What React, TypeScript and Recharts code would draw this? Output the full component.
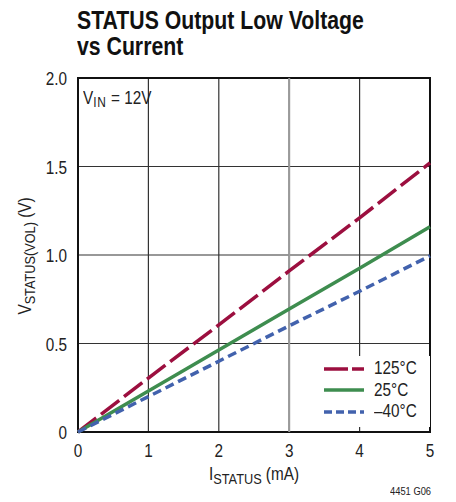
import React from "react";
import { LineChart, Line, XAxis, YAxis, CartesianGrid, ReferenceArea, ReferenceLine, Label } from "recharts";

const currents = [0, 1, 2, 3, 4, 5];
const v125 = [0, 0.305, 0.605, 0.91, 1.21, 1.52];
const v25 = [0, 0.232, 0.463, 0.695, 0.925, 1.16];
const vm40 = [0, 0.2, 0.4, 0.6, 0.795, 0.995];
const xTicks = [0, 1, 2, 3, 4, 5];
const yTicks = [0, 0.5, 1, 1.5, 2];

const data = currents.map((c, i) => ({ c, a: v125[i], b: v25[i], d: vm40[i] }));

const FONT = "'Liberation Sans', Arial, sans-serif";
const SX = 0.85;
const RED = "#9c0f3f";
const GREEN = "#3e8d4f";
const BLUE = "#4262ad";

const series = [
  { key: "a", name: "125°C", color: RED, dash: "23 6", ldash: "24 4" },
  { key: "b", name: "25°C", color: GREEN, dash: undefined, ldash: undefined },
  { key: "d", name: "–40°C", color: BLUE, dash: "9 5", ldash: "8 4" },
];

const XTick = (props: any) => {
  const { x, y, payload } = props;
  return (
    <g transform={`translate(${x},${y + 17})`}>
      <text transform={`scale(${SX},1)`} textAnchor="middle" fontFamily={FONT} fontSize={18} fill="#222">
        {payload.value}
      </text>
    </g>
  );
};

const YTick = (props: any) => {
  const { x, y, payload } = props;
  const v = payload.value as number;
  return (
    <g transform={`translate(${x - 3},${y + 7})`}>
      <text transform={`scale(${SX},1)`} textAnchor="end" fontFamily={FONT} fontSize={18} fill="#222">
        {v === 0 ? "0" : v.toFixed(1)}
      </text>
    </g>
  );
};

const Narrow = ({ children, style }: any) => (
  <span style={{ display: "inline-block", transform: `scaleX(${SX})`, transformOrigin: "left center", whiteSpace: "nowrap", ...style }}>
    {children}
  </span>
);

const LegendBox = () => (
  <div style={{ position: "absolute", left: 318, top: 356, background: "#fff", padding: "2px 0 4px 6px", width: 106, fontFamily: FONT, fontSize: 18, color: "#222" }}>
    {series.map((s) => (
      <div key={s.key} style={{ display: "flex", alignItems: "center", height: 21.5 }}>
        <svg width={40} height={6} style={{ marginRight: 10 }}>
          <line x1={0} y1={3} x2={40} y2={3} stroke={s.color} strokeWidth={3.5} strokeDasharray={s.ldash} />
        </svg>
        <Narrow>{s.name}</Narrow>
      </div>
    ))}
  </div>
);

export default function App() {
  return (
    <div style={{ position: "absolute", left: 0, top: 0, width: 456, height: 502, background: "#fff" }}>
      <div style={{ position: "absolute", left: 77, top: 7, fontFamily: FONT, fontWeight: "bold", fontSize: 25, lineHeight: "26px", color: "#111" }}>
        <Narrow>STATUS Output Low Voltage</Narrow>
        <br />
        <Narrow>vs Current</Narrow>
      </div>
      <LineChart width={456} height={502} data={data} margin={{ top: 78, right: 26, bottom: 0, left: 0 }}>
        <CartesianGrid stroke="#333" strokeWidth={1.2} horizontal vertical />
        <ReferenceLine x={3} stroke="#9a9a9a" strokeWidth={2} />
        <XAxis
          dataKey="c"
          type="number"
          domain={[0, 5]}
          ticks={xTicks}
          axisLine={false}
          tickLine={false}
          tick={<XTick />}
          height={70}
        >
          <Label
            content={() => (
              <g transform="translate(254 480)">
                <text transform={`scale(${SX},1)`} textAnchor="middle" fontFamily={FONT} fontSize={18} fill="#222">
                  <tspan>I</tspan>
                  <tspan fontSize={15} dy={4}>STATUS</tspan>
                  <tspan dy={-4}> (mA)</tspan>
                </text>
              </g>
            )}
          />
        </XAxis>
        <YAxis
          type="number"
          domain={[0, 2]}
          ticks={yTicks}
          axisLine={false}
          tickLine={false}
          width={78}
          tick={<YTick />}
        >
          <Label
            content={() => (
              <g transform="translate(31 256) rotate(-90)">
                <text transform={`scale(${SX},1)`} textAnchor="middle" fontFamily={FONT} fontSize={18} fill="#222">
                  <tspan>V</tspan>
                  <tspan fontSize={15} dy={4}>STATUS(VOL)</tspan>
                  <tspan dy={-4}> (V)</tspan>
                </text>
              </g>
            )}
          />
        </YAxis>
        {series.map((s) => (
          <Line
            key={s.key}
            dataKey={s.key}
            name={s.name}
            stroke={s.color}
            strokeWidth={3.5}
            strokeDasharray={s.dash}
            dot={false}
            activeDot={false}
            type="linear"
            isAnimationActive={false}
          />
        ))}
        <ReferenceArea x1={0} x2={5} y1={0} y2={2} fill="none" stroke="#111" strokeWidth={2} ifOverflow="visible" />
      </LineChart>
      <LegendBox />
      <div style={{ position: "absolute", left: 390, top: 485, fontFamily: FONT, fontSize: 11, color: "#222" }}>
        <Narrow>4451 G06</Narrow>
      </div>
      <div style={{ position: "absolute", left: 83, top: 88, fontFamily: FONT, fontSize: 18, color: "#222" }}>
        <Narrow>
          V<sub style={{ fontSize: 14, verticalAlign: "-3px", letterSpacing: 1 }}>IN</sub> = 12V
        </Narrow>
      </div>
    </div>
  );
}
